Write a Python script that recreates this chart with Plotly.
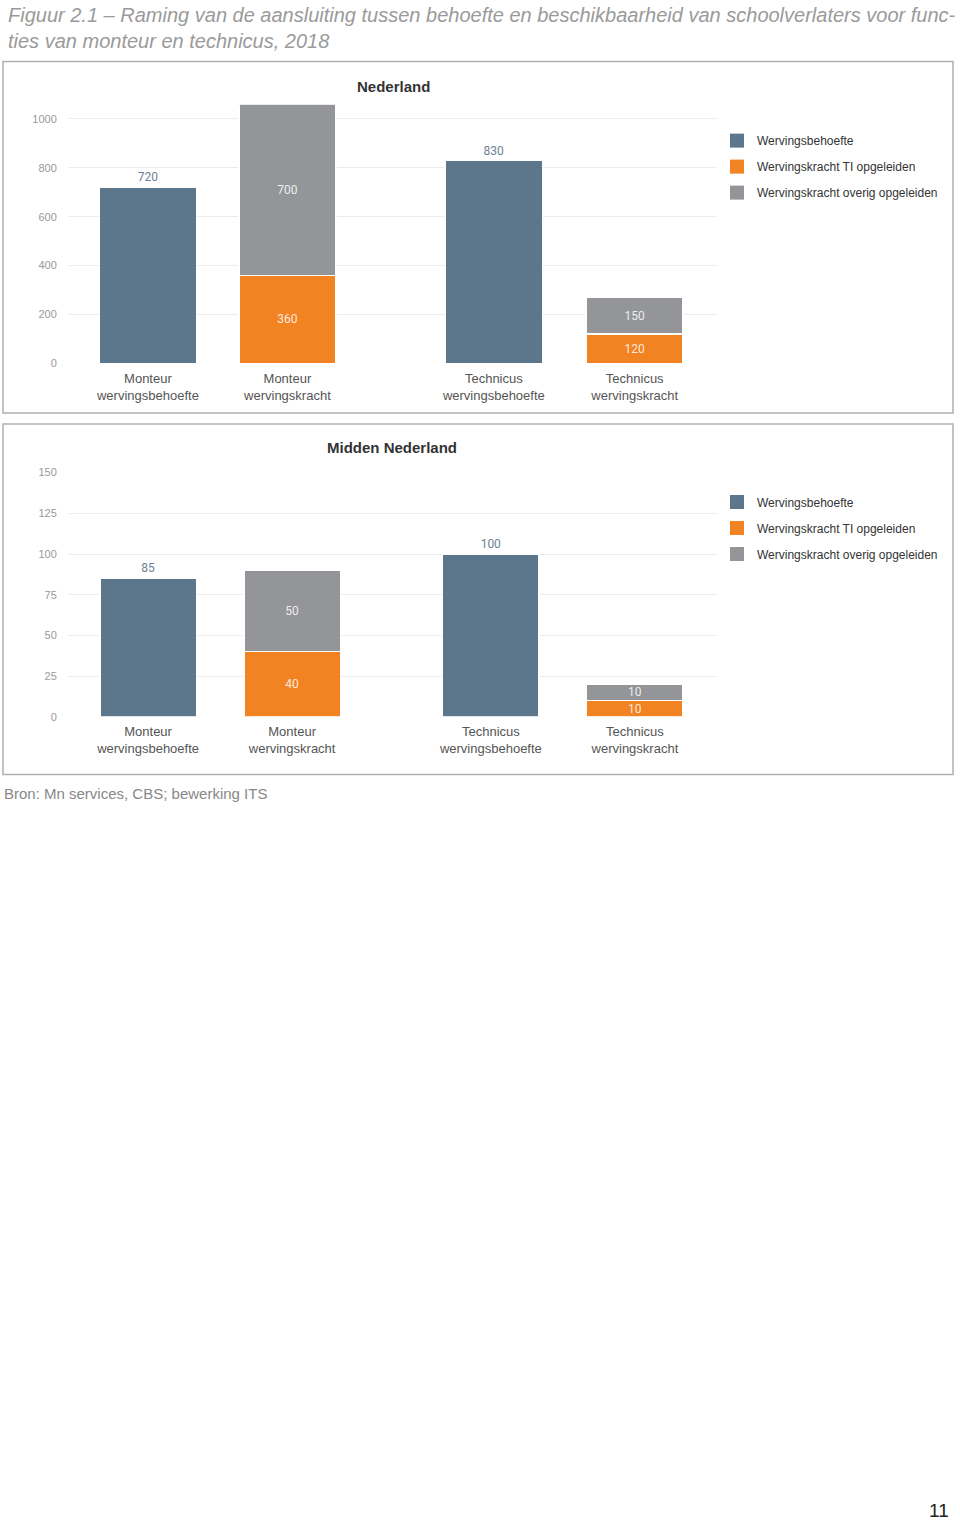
import plotly.graph_objects as go

# data
categories = ["Monteur<br>wervingsbehoefte", "Monteur<br>wervingskracht",
              "Technicus<br>wervingsbehoefte", "Technicus<br>wervingskracht"]
series_names = ["Wervingsbehoefte", "Wervingskracht TI opgeleiden", "Wervingskracht overig opgeleiden"]

nl_behoefte = [720, None, 830, None]
nl_ti = [None, 360, None, 120]
nl_overig = [None, 700, None, 150]

mn_behoefte = [85, None, 100, None]
mn_ti = [None, 40, None, 10]
mn_overig = [None, 50, None, 10]

y_ticks_nl = [0, 200, 400, 600, 800, 1000]
y_ticks_mn = [0, 25, 50, 75, 100, 125, 150]

# styling
colors = ["#5c778c", "#f28322", "#939598"]
H = 1528
W = 960
FONT = "Liberation Sans"

# x positions of the bars (gap between monteur and technicus)
pos_nl = [0, 1, 2.48, 3.49]
pos_mn = [0, 1, 2.38, 3.38]


def py(p):
    return 1 - p / H


fig = go.Figure()


def add_panel(values, pos, xa, ya, legend, width):
    for i, (vals, name) in enumerate(zip(values, series_names)):
        xs = [p for p, v in zip(pos, vals) if v is not None]
        ys = [v for v in vals if v is not None]
        if i == 0:
            tp = "outside"
            tf = dict(color="#6c8296", size=12, family="Roboto")
        else:
            tp = "inside"
            tf = dict(color="rgba(255,255,255,0.85)", size=12, family="Roboto")
        fig.add_trace(go.Bar(
            x=xs, y=ys, name=name, xaxis=xa, yaxis=ya, showlegend=False,
            width=width,
            marker=dict(color=colors[i], line=dict(color="white", width=1.5)),
            text=ys, textposition=tp, insidetextanchor="middle", constraintext="none",
            textfont=tf, outsidetextfont=tf, insidetextfont=tf,
            cliponaxis=False, textangle=0,
        ))
    # legend entries with bigger square swatches
    for i, name in enumerate(series_names):
        fig.add_trace(go.Scatter(
            x=[None], y=[None], mode="markers", name=name, xaxis=xa, yaxis=ya,
            legend=legend, legendgroup=legend + str(i),
            marker=dict(symbol="square", size=14, color=colors[i]),
        ))


add_panel([nl_behoefte, nl_ti, nl_overig], pos_nl, "x", "y", "legend", 0.695)
add_panel([mn_behoefte, mn_ti, mn_overig], pos_mn, "x2", "y2", "legend2", 0.67)

xdom = [68 / W, 717 / W]
axis_common = dict(showgrid=True, gridcolor="#ececec", gridwidth=1, zeroline=False,
                   showline=False, fixedrange=True)

legend_common = dict(
    xanchor="left", yanchor="top", traceorder="grouped", tracegroupgap=7,
    font=dict(family=FONT, size=12, color="#333"),
    bgcolor="rgba(0,0,0,0)", itemwidth=30,
)

fig.update_layout(
    width=W, height=H,
    margin=dict(l=0, r=0, t=0, b=0),
    paper_bgcolor="white", plot_bgcolor="white",
    barmode="stack",
    font=dict(family=FONT),
    xaxis=dict(domain=xdom, anchor="y", range=[-0.573, 4.08],
               tickvals=pos_nl, ticktext=categories, showgrid=False, zeroline=False,
               ticks="outside", ticklen=3, tickcolor="rgba(0,0,0,0)", fixedrange=True,
               tickfont=dict(size=13, color="#555", family=FONT)),
    yaxis=dict(domain=[py(361), py(100)], anchor="x", range=[0, 1060],
               tickvals=y_ticks_nl, ticks="outside", ticklen=8, tickcolor="rgba(0,0,0,0)",
               tickfont=dict(size=11, color="#999", family=FONT), **axis_common),
    xaxis2=dict(domain=xdom, anchor="y2", range=[-0.556, 3.95],
                tickvals=pos_mn, ticktext=categories, showgrid=False, zeroline=False,
                ticks="outside", ticklen=3, tickcolor="rgba(0,0,0,0)", fixedrange=True,
                tickfont=dict(size=13, color="#555", family=FONT)),
    yaxis2=dict(domain=[py(717), py(470)], anchor="x2", range=[0, 150.6],
                tickvals=y_ticks_mn, ticks="outside", ticklen=8, tickcolor="rgba(0,0,0,0)",
                tickfont=dict(size=11, color="#999", family=FONT), **axis_common),
    legend=dict(x=717 / W, y=py(122), **legend_common),
    legend2=dict(x=717 / W, y=py(486), **legend_common),
    showlegend=True,
)

# panel frames
for top, bottom in [(57, 411), (422, 775)]:
    fig.add_shape(type="rect", xref="paper", yref="paper",
                  x0=3 / W, x1=953 / W, y0=py(bottom), y1=py(top),
                  line=dict(color="#b0b0b0", width=1.5), fillcolor="rgba(0,0,0,0)")

# panel titles
fig.add_annotation(text="<b>Nederland</b>", x=393 / W, y=py(82), xref="paper", yref="paper",
                   xanchor="center", yanchor="middle",
                   showarrow=False, font=dict(size=15, color="#333", family=FONT))
fig.add_annotation(text="<b>Midden Nederland</b>", x=392 / W, y=py(446), xref="paper", yref="paper",
                   xanchor="center", yanchor="middle",
                   showarrow=False, font=dict(size=15, color="#333", family=FONT))

# figure title
fig.add_annotation(
    text="<i>Figuur 2.1 – Raming van de aansluiting tussen behoefte en beschikbaarheid van schoolverlaters voor func-<br>ties van monteur en technicus, 2018</i>",
    x=6 / W, y=py(23), xref="paper", yref="paper", xanchor="left", yanchor="middle",
    align="left", showarrow=False, font=dict(size=20, color="#9a9a9a", family=FONT))

# source
fig.add_annotation(text="Bron: Mn services, CBS; bewerking ITS", x=2 / W, y=py(794),
                   xref="paper", yref="paper", xanchor="left", yanchor="middle",
                   showarrow=False, font=dict(size=15, color="#888", family=FONT))

# page number
fig.add_annotation(text="11", x=951 / W, y=py(1516), xref="paper", yref="paper",
                   xanchor="right", yanchor="middle", showarrow=False,
                   font=dict(size=19, color="#222", family=FONT))

fig.write_html("out.html", config={"displayModeBar": False},
               post_script="document.body.style.margin='0';document.body.style.overflow='hidden';")
